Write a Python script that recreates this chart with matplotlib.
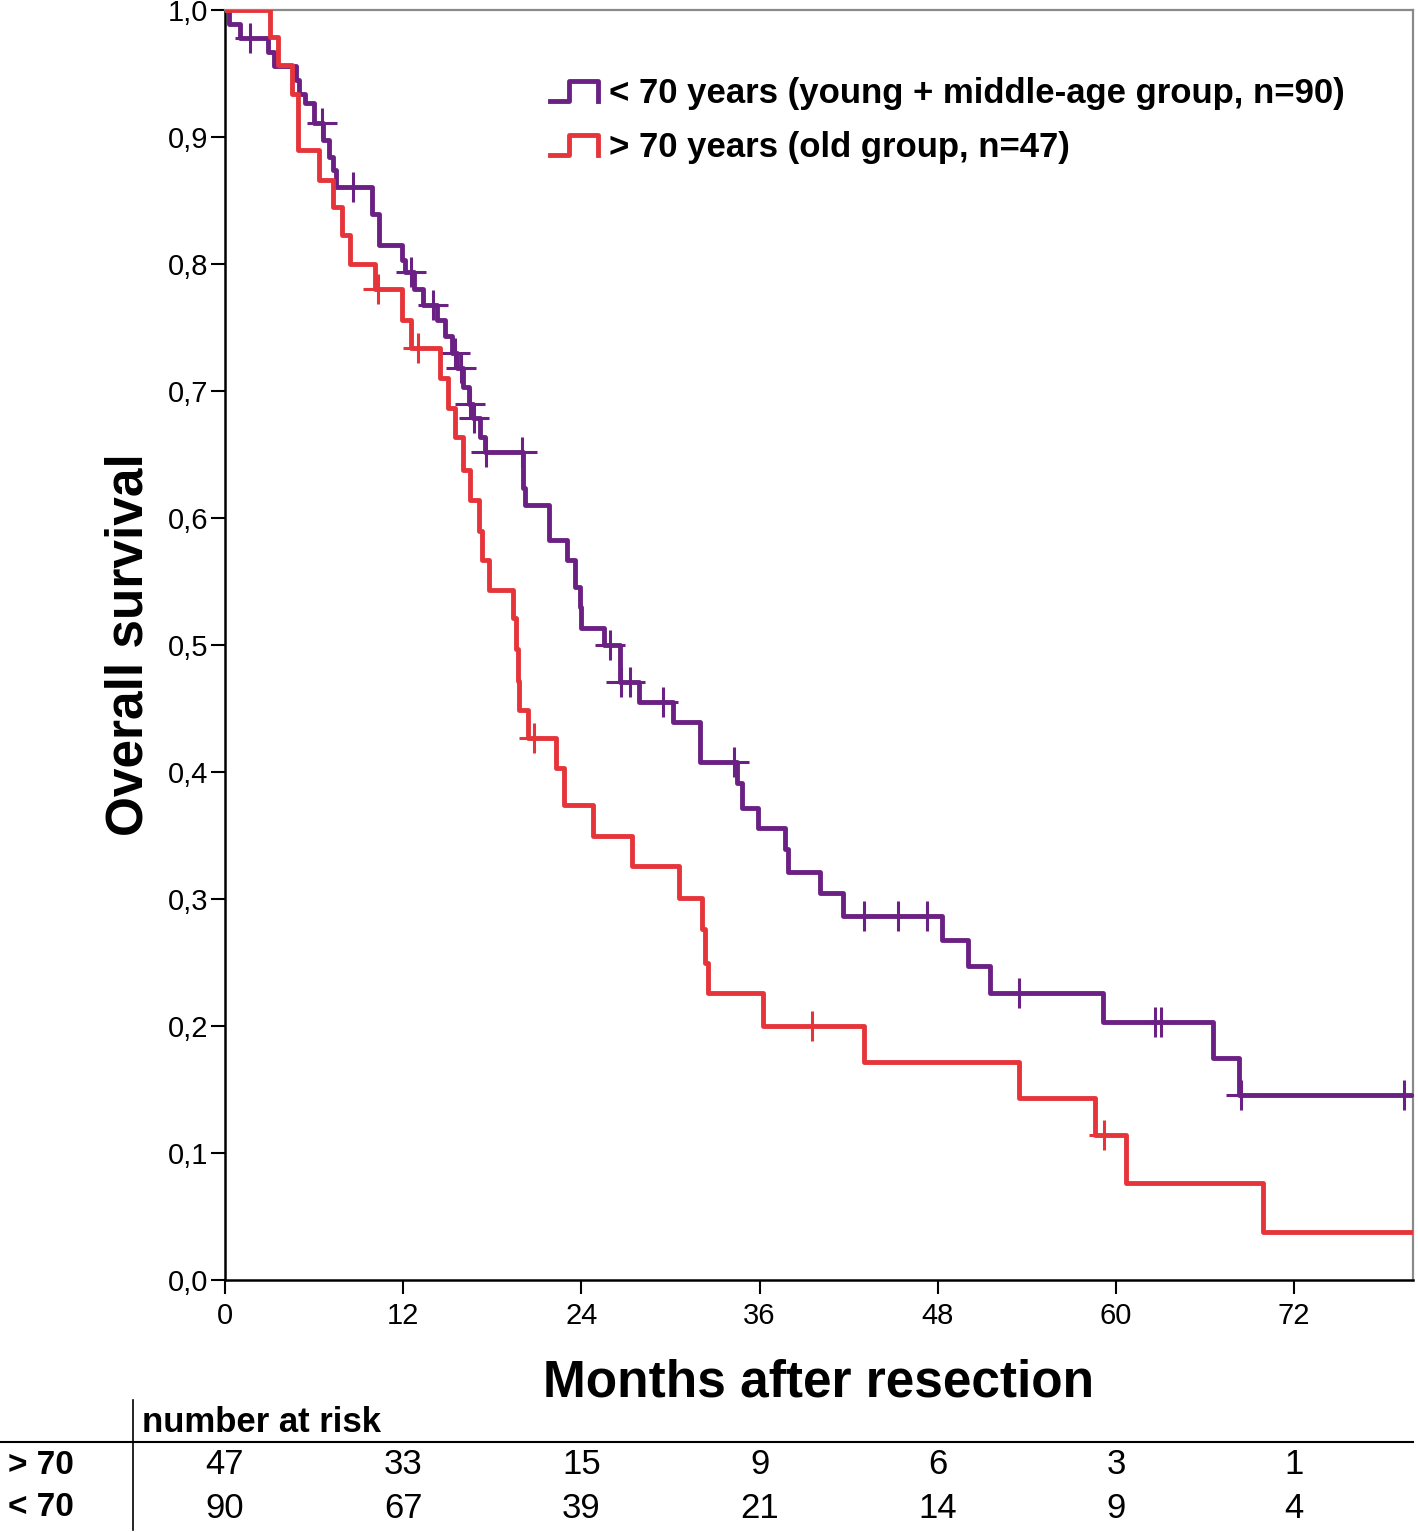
import numpy as np
import matplotlib.pyplot as plt
from matplotlib.lines import Line2D
from matplotlib.legend_handler import HandlerBase
from matplotlib.transforms import blended_transform_factory
import matplotlib.ticker as ticker

plt.rcParams['font.family'] = ['Liberation Sans', 'DejaVu Sans']

# Kaplan-Meier steps
young_t = [0, 0.3, 1.0, 2.9, 3.3, 4.8, 5.0, 5.4, 6.0, 6.6, 7.0, 7.3, 7.5, 9.9, 10.4,
           11.9, 12.1, 12.7, 13.3, 14.3, 14.8, 15.3, 15.6, 16.0, 16.4, 16.7, 17.2,
           17.5, 20.1, 20.2, 21.8, 23.0, 23.6, 23.9, 24.0, 25.5, 26.6, 27.9, 30.2,
           32.0, 34.5, 34.8, 35.9, 37.7, 37.9, 40.1, 41.6, 48.3, 50.0, 51.5, 59.1,
           66.5, 68.3]
young_s = [1.0, 0.989, 0.978, 0.967, 0.956, 0.945, 0.934, 0.927, 0.911, 0.898, 0.884,
           0.874, 0.861, 0.839, 0.815, 0.803, 0.794, 0.780, 0.768, 0.756, 0.743, 0.730,
           0.718, 0.703, 0.690, 0.679, 0.664, 0.652, 0.624, 0.610, 0.583, 0.567, 0.546,
           0.530, 0.513, 0.500, 0.471, 0.455, 0.439, 0.408, 0.391, 0.372, 0.356, 0.339,
           0.321, 0.305, 0.287, 0.268, 0.247, 0.226, 0.203, 0.175, 0.146]
young_cens = [1.7, 6.5, 8.6, 12.5, 14.0, 15.5, 15.9, 16.5, 16.8, 17.6, 20.0, 25.9,
              26.7, 27.3, 29.5, 34.3, 43.0, 45.3, 47.3, 53.5, 62.6, 63.0, 68.4, 79.4]

old_t = [0, 3.0, 3.6, 4.5, 4.9, 6.3, 7.3, 7.9, 8.4, 10.1, 11.9, 12.5, 14.5, 15.0, 15.5,
         16.0, 16.5, 17.1, 17.3, 17.8, 19.4, 19.6, 19.7, 19.8, 20.4, 22.3, 22.8, 24.8,
         27.4, 30.6, 32.1, 32.3, 32.5, 36.2, 43.0, 53.5, 58.6, 60.7, 69.9]
old_s = [1.0, 0.979, 0.957, 0.934, 0.890, 0.866, 0.845, 0.823, 0.800, 0.780, 0.756,
         0.734, 0.710, 0.687, 0.664, 0.638, 0.614, 0.590, 0.567, 0.543, 0.521, 0.497,
         0.472, 0.449, 0.427, 0.403, 0.374, 0.350, 0.326, 0.301, 0.276, 0.250, 0.226,
         0.200, 0.172, 0.143, 0.114, 0.076, 0.038]
old_cens = [10.3, 13.0, 20.8, 39.5, 59.2]

t_end = 80
risk_times = [0, 12, 24, 36, 48, 60, 72]
risk_old = [47, 33, 15, 9, 6, 3, 1]
risk_young = [90, 67, 39, 21, 14, 9, 4]

purple = '#6a2183'
red = '#e6343b'


def surv_at(times, surv, c):
    idx = np.searchsorted(times, c, side='right') - 1
    return np.array(surv)[idx]


class StepHandler(HandlerBase):
    def create_artists(self, legend, orig_handle, xdescent, ydescent,
                       width, height, fontsize, trans):
        x0, y0 = -xdescent, -ydescent
        xs = [x0, x0 + 0.4 * width, x0 + 0.4 * width, x0 + width, x0 + width]
        ys = [y0 + 0.1 * height, y0 + 0.1 * height, y0 + 0.9 * height,
              y0 + 0.9 * height, y0 + 0.1 * height]
        ln = Line2D(xs, ys, color=orig_handle.get_color(),
                    lw=orig_handle.get_linewidth(), transform=trans)
        return [ln]


fig = plt.figure(figsize=(14.18, 15.32), dpi=100)
ax = fig.add_axes([225/1418, 1 - 1280/1532, 1188/1418, 1270/1532])

h1, = ax.step(young_t + [t_end], young_s + [young_s[-1]], where='post',
              color=purple, lw=3.5, zorder=3)
h2, = ax.step(old_t + [t_end], old_s + [old_s[-1]], where='post',
              color=red, lw=3.5, zorder=4)
ax.plot(young_cens, surv_at(young_t, young_s, young_cens), ls='none', marker='+',
        ms=22, mew=2.2, color=purple, zorder=3)
ax.plot(old_cens, surv_at(old_t, old_s, old_cens), ls='none', marker='+',
        ms=22, mew=2.2, color=red, zorder=4)

ax.set_xlim(0, t_end)
ax.set_ylim(0, 1.0)
ax.set_xticks(risk_times)
ax.set_yticks(np.arange(0, 1.01, 0.1))
ax.yaxis.set_major_formatter(ticker.FuncFormatter(lambda v, p: f'{v:.1f}'.replace('.', ',')))
ax.tick_params(axis='both', direction='out', length=10, width=1.5, labelsize=21)
ax.tick_params(axis='y', pad=2)
ax.tick_params(axis='x', pad=6)

for s in ['left', 'bottom']:
    ax.spines[s].set_color('black')
    ax.spines[s].set_linewidth(1.8)
for s in ['top', 'right']:
    ax.spines[s].set_color('#8a8a8a')
    ax.spines[s].set_linewidth(1.6)

ax.set_ylabel('Overall survival', fontsize=37, fontweight='bold')
ax.yaxis.set_label_coords(-0.060, 0.5)
ax.set_xlabel('Months after resection', fontsize=37, fontweight='bold')
ax.xaxis.set_label_coords(0.5, -0.062)

ax.legend([h1, h2],
          ['< 70 years (young + middle-age group, n=90)',
           '> 70 years (old group, n=47)'],
          handler_map={h1: StepHandler(), h2: StepHandler()},
          loc='upper left', bbox_to_anchor=(0.2475, 0.9717), frameon=False,
          prop={'size': 25, 'weight': 'bold'}, handlelength=1.38,
          handleheight=0.7, handletextpad=0.3, labelspacing=0.6)

# number at risk table
trans = blended_transform_factory(ax.transData, fig.transFigure)
fig.text(142/1418, 1 - 1422/1532, 'number at risk', fontsize=25, fontweight='bold',
         va='center', ha='left')
fig.add_artist(Line2D([0, 1413/1418], [1 - 1442/1532] * 2, color='black', lw=1.5,
                      transform=fig.transFigure))
fig.add_artist(Line2D([133/1418] * 2, [1 - 1400/1532, 1 - 1530/1532], color='black',
                      lw=1.2, transform=fig.transFigure))
fig.text(8/1418, 1 - 1465/1532, '> 70', fontsize=24, fontweight='bold', va='center')
fig.text(8/1418, 1 - 1508/1532, '< 70', fontsize=24, fontweight='bold', va='center')
for t, a, b in zip(risk_times, risk_old, risk_young):
    fig.text(t, 1 - 1465/1532, str(a), transform=trans, fontsize=25,
             ha='center', va='center')
    fig.text(t, 1 - 1508/1532, str(b), transform=trans, fontsize=25,
             ha='center', va='center')

plt.savefig('out.png', dpi=100)
